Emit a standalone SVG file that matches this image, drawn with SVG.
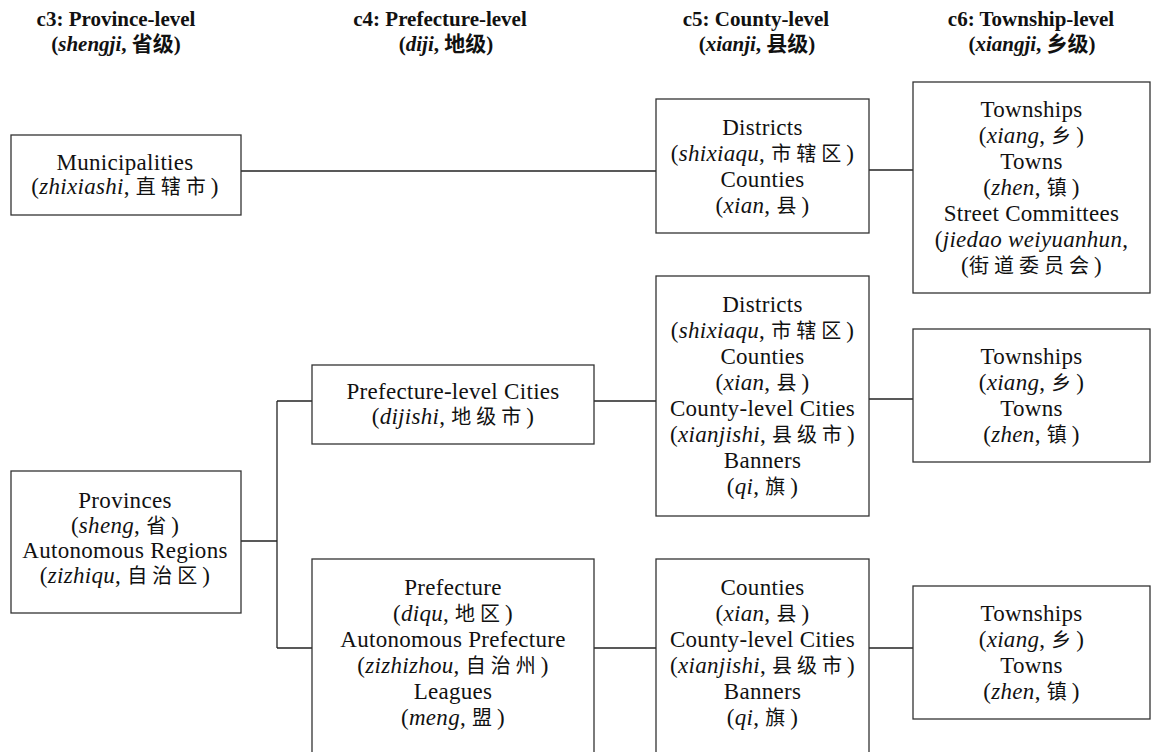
<svg xmlns="http://www.w3.org/2000/svg" width="1161" height="752" viewBox="0 0 1161 752">
<style>
text{font-family:"Liberation Serif","Noto Sans CJK SC",serif;fill:#111;text-anchor:middle}
.b{font-size:23px;letter-spacing:0.3px}
.h{font-size:21px;font-weight:bold}
.i{font-style:italic}
.c{font-size:20px;letter-spacing:5px}
.box{fill:#fff;stroke:#333;stroke-width:1.3}
.ln{fill:none;stroke:#222;stroke-width:1.3}
</style>
<rect width="1161" height="752" fill="#fff"/>
<g id="headers">
<text class="h" x="116" y="26">c3: Province-level</text>
<text class="h" x="116" y="51">(<tspan class="i">shengji</tspan>, 省级)</text>
<text class="h" x="440" y="26">c4: Prefecture-level</text>
<text class="h" x="446" y="51">(<tspan class="i">diji</tspan>, 地级)</text>
<text class="h" x="756" y="26">c5: County-level</text>
<text class="h" x="757" y="51">(<tspan class="i">xianji</tspan>, 县级)</text>
<text class="h" x="1031" y="26">c6: Township-level</text>
<text class="h" x="1032" y="51">(<tspan class="i">xiangji</tspan>, 乡级)</text>
</g>
<g id="connectors">
<line class="ln" x1="241" y1="171" x2="656" y2="171"/>
<line class="ln" x1="869" y1="170" x2="913" y2="170"/>
<line class="ln" x1="241" y1="541" x2="277" y2="541"/>
<line class="ln" x1="277" y1="401" x2="277" y2="648"/>
<line class="ln" x1="277" y1="401" x2="312" y2="401"/>
<line class="ln" x1="277" y1="648" x2="312" y2="648"/>
<line class="ln" x1="594" y1="401" x2="656" y2="401"/>
<line class="ln" x1="869" y1="399" x2="913" y2="399"/>
<line class="ln" x1="594" y1="648" x2="656" y2="648"/>
<line class="ln" x1="869" y1="648" x2="913" y2="648"/>
</g>
<g id="municipalities">
<rect class="box" x="11" y="135" width="230" height="80"/>
<text class="b" x="125" y="170">Municipalities</text>
<text class="b" x="125" y="194">(<tspan class="i">zhixiashi</tspan>, <tspan class="c">直辖市</tspan>)</text>
</g>
<g id="districts1">
<rect class="box" x="656" y="99" width="213" height="134"/>
<text class="b" x="762.5" y="135">Districts</text>
<text class="b" x="762.5" y="161">(<tspan class="i">shixiaqu</tspan>, <tspan class="c">市辖区</tspan>)</text>
<text class="b" x="762.5" y="187">Counties</text>
<text class="b" x="762.5" y="213">(<tspan class="i">xian</tspan>, <tspan class="c">县</tspan>)</text>
</g>
<g id="townships1">
<rect class="box" x="913" y="82" width="237" height="211"/>
<text class="b" x="1031.5" y="117">Townships</text>
<text class="b" x="1031.5" y="143">(<tspan class="i">xiang</tspan>, <tspan class="c">乡</tspan>)</text>
<text class="b" x="1031.5" y="169">Towns</text>
<text class="b" x="1031.5" y="195">(<tspan class="i">zhen</tspan>, <tspan class="c">镇</tspan>)</text>
<text class="b" x="1031.5" y="221">Street Committees</text>
<text class="b" x="1031.5" y="247">(<tspan class="i">jiedao weiyuanhun</tspan>,</text>
<text class="b" x="1031.5" y="273">(<tspan class="c">街道委员会</tspan>)</text>
</g>
<g id="provinces">
<rect class="box" x="11" y="471" width="230" height="142"/>
<text class="b" x="125" y="508">Provinces</text>
<text class="b" x="125" y="533">(<tspan class="i">sheng</tspan>, <tspan class="c">省</tspan>)</text>
<text class="b" x="125" y="558">Autonomous Regions</text>
<text class="b" x="125" y="583">(<tspan class="i">zizhiqu</tspan>, <tspan class="c">自治区</tspan>)</text>
</g>
<g id="prefecture-cities">
<rect class="box" x="312" y="365" width="282" height="79"/>
<text class="b" x="453" y="399">Prefecture-level Cities</text>
<text class="b" x="453" y="424">(<tspan class="i">dijishi</tspan>, <tspan class="c">地级市</tspan>)</text>
</g>
<g id="prefectures">
<rect class="box" x="312" y="559" width="282" height="200"/>
<text class="b" x="453" y="595">Prefecture</text>
<text class="b" x="453" y="621">(<tspan class="i">diqu</tspan>, <tspan class="c">地区</tspan>)</text>
<text class="b" x="453" y="647">Autonomous Prefecture</text>
<text class="b" x="453" y="673">(<tspan class="i">zizhizhou</tspan>, <tspan class="c">自治州</tspan>)</text>
<text class="b" x="453" y="699">Leagues</text>
<text class="b" x="453" y="725">(<tspan class="i">meng</tspan>, <tspan class="c">盟</tspan>)</text>
</g>
<g id="districts2">
<rect class="box" x="656" y="276" width="213" height="240"/>
<text class="b" x="762.5" y="312">Districts</text>
<text class="b" x="762.5" y="338">(<tspan class="i">shixiaqu</tspan>, <tspan class="c">市辖区</tspan>)</text>
<text class="b" x="762.5" y="364">Counties</text>
<text class="b" x="762.5" y="390">(<tspan class="i">xian</tspan>, <tspan class="c">县</tspan>)</text>
<text class="b" x="762.5" y="416">County-level Cities</text>
<text class="b" x="762.5" y="442">(<tspan class="i">xianjishi</tspan>, <tspan class="c">县级市</tspan>)</text>
<text class="b" x="762.5" y="468">Banners</text>
<text class="b" x="762.5" y="494">(<tspan class="i">qi</tspan>, <tspan class="c">旗</tspan>)</text>
</g>
<g id="townships2">
<rect class="box" x="913" y="329" width="237" height="133"/>
<text class="b" x="1031.5" y="364">Townships</text>
<text class="b" x="1031.5" y="390">(<tspan class="i">xiang</tspan>, <tspan class="c">乡</tspan>)</text>
<text class="b" x="1031.5" y="416">Towns</text>
<text class="b" x="1031.5" y="442">(<tspan class="i">zhen</tspan>, <tspan class="c">镇</tspan>)</text>
</g>
<g id="counties3">
<rect class="box" x="656" y="559" width="213" height="200"/>
<text class="b" x="762.5" y="595">Counties</text>
<text class="b" x="762.5" y="621">(<tspan class="i">xian</tspan>, <tspan class="c">县</tspan>)</text>
<text class="b" x="762.5" y="647">County-level Cities</text>
<text class="b" x="762.5" y="673">(<tspan class="i">xianjishi</tspan>, <tspan class="c">县级市</tspan>)</text>
<text class="b" x="762.5" y="699">Banners</text>
<text class="b" x="762.5" y="725">(<tspan class="i">qi</tspan>, <tspan class="c">旗</tspan>)</text>
</g>
<g id="townships3">
<rect class="box" x="913" y="586" width="237" height="133"/>
<text class="b" x="1031.5" y="621">Townships</text>
<text class="b" x="1031.5" y="647">(<tspan class="i">xiang</tspan>, <tspan class="c">乡</tspan>)</text>
<text class="b" x="1031.5" y="673">Towns</text>
<text class="b" x="1031.5" y="699">(<tspan class="i">zhen</tspan>, <tspan class="c">镇</tspan>)</text>
</g>
</svg>
